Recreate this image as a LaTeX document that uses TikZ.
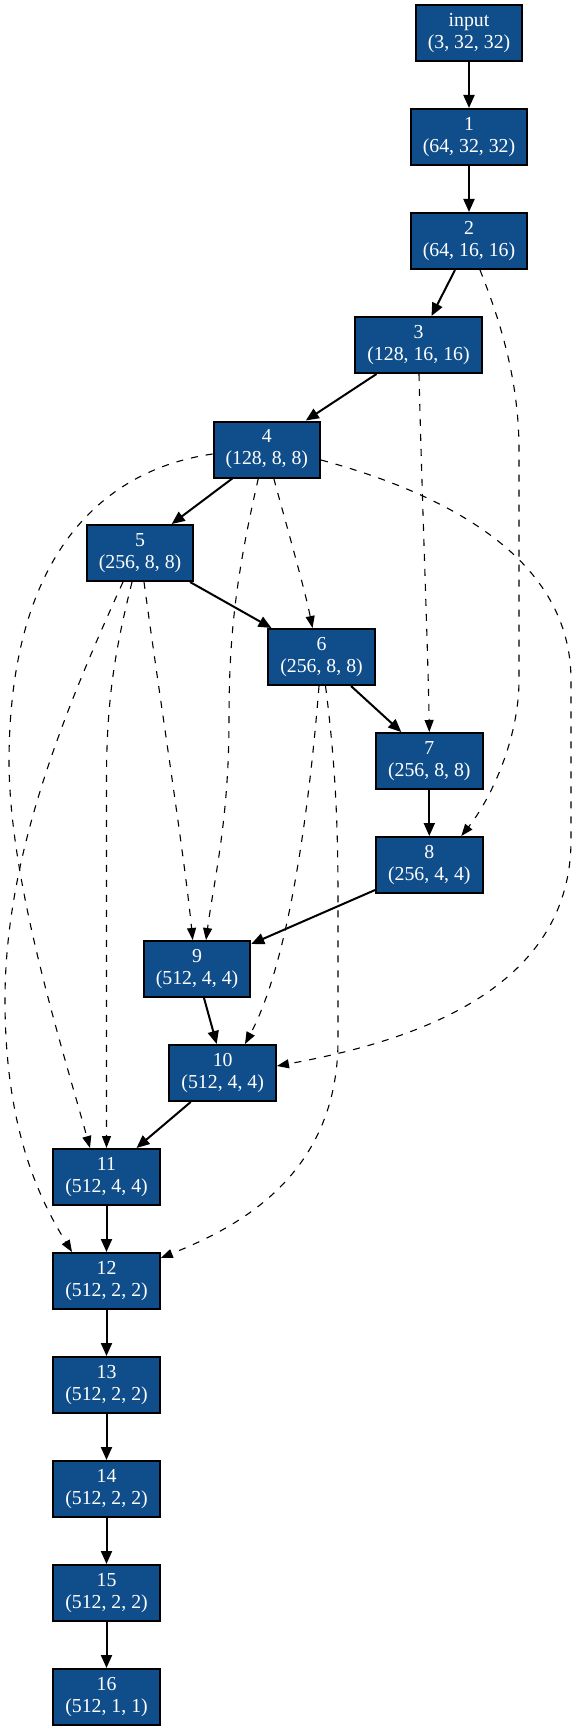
\documentclass[tikz,border=0pt]{standalone}
\usepackage{fontspec}
\setmainfont{Liberation Serif}
\usetikzlibrary{arrows.meta}
\definecolor{nodeblue}{HTML}{104E8B}
\tikzset{
  box/.style={draw=black, line width=2pt, fill=nodeblue, text=white,
    align=center, minimum height=56pt, minimum width=106pt, inner xsep=12pt, inner ysep=0pt,
    font=\fontsize{19.8pt}{22pt}\selectfont},
  solidedge/.style={line width=2pt, -{Triangle[length=13pt,width=11pt]}},
  dashedge/.style={line width=1.1pt, dash pattern=on 7pt off 8pt, -{Triangle[length=12pt,width=9pt]}}
}
\begin{document}
\begin{tikzpicture}[x=1pt,y=-1pt]
\useasboundingbox (0,0) rectangle (576,1731);
\node[box] (in) at (469,33) {input\\(3, 32, 32)};
\node[box] (n1) at (469,137) {1\\(64, 32, 32)};
\node[box] (n2) at (469,241) {2\\(64, 16, 16)};
\node[box] (n3) at (418.5,345) {3\\(128, 16, 16)};
\node[box] (n4) at (266.8,449.5) {4\\(128, 8, 8)};
\node[box] (n5) at (140,553) {5\\(256, 8, 8)};
\node[box] (n6) at (321.5,657) {6\\(256, 8, 8)};
\node[box] (n7) at (429.3,761) {7\\(256, 8, 8)};
\node[box] (n8) at (429.3,865) {8\\(256, 4, 4)};
\node[box] (n9) at (197,969) {9\\(512, 4, 4)};
\node[box] (n10) at (222.7,1073) {10\\(512, 4, 4)};
\node[box] (n11) at (106.5,1177) {11\\(512, 4, 4)};
\node[box] (n12) at (106.5,1281) {12\\(512, 2, 2)};
\node[box] (n13) at (106.5,1385) {13\\(512, 2, 2)};
\node[box] (n14) at (106.5,1489) {14\\(512, 2, 2)};
\node[box] (n15) at (106.5,1593) {15\\(512, 2, 2)};
\node[box] (n16) at (106.5,1697) {16\\(512, 1, 1)};
% solid chain
\draw[solidedge] (in.south) -- (n1.north);
\draw[solidedge] (n1.south) -- (n2.north);
\draw[solidedge] ([xshift=-14pt]n2.south) -- ([xshift=13pt]n3.north);
\draw[solidedge] ([xshift=-42pt]n3.south) -- ([xshift=39pt]n4.north);
\draw[solidedge] ([xshift=-34.5pt]n4.south) -- ([xshift=31.7pt]n5.north);
\draw[solidedge] ([xshift=50pt]n5.south) -- ([xshift=-50pt]n6.north);
\draw[solidedge] ([xshift=29.5pt]n6.south) -- ([xshift=-28pt]n7.north);
\draw[solidedge] (n7.south) -- (n8.north);
\draw[solidedge] ([yshift=4pt]n8.south west) -- ([yshift=-4pt]n9.north east);
\draw[solidedge] ([xshift=7pt]n9.south) -- ([xshift=-6pt]n10.north);
\draw[solidedge] ([xshift=-32pt]n10.south) -- ([xshift=30pt]n11.north);
\draw[solidedge] (n11.south) -- (n12.north);
\draw[solidedge] (n12.south) -- (n13.north);
\draw[solidedge] (n13.south) -- (n14.north);
\draw[solidedge] (n14.south) -- (n15.north);
\draw[solidedge] (n15.south) -- (n16.north);
% dashed skips
\draw[dashedge] ([xshift=11pt]n2.south) .. controls (500,320) and (519,380) .. (519,450) -- (519,680) .. controls (519,740) and (490,800) .. ([xshift=32pt]n8.north);
\draw[dashedge] ([xshift=0.5pt]n3.south) .. controls (422,500) and (428,650) .. (n7.north);
\draw[dashedge] ([yshift=-10.5pt]n4.east) .. controls (450,495) and (571,560) .. (571,680) -- (571,840) .. controls (571,1000) and (390,1045) .. ([yshift=7pt]n10.east);
\draw[dashedge] ([xshift=7pt]n4.south) .. controls (285,520) and (305,590) .. ([xshift=-9pt]n6.north);
\draw[dashedge] ([xshift=-8.5pt]n4.south) .. controls (235,580) and (229,640) .. (229,720) .. controls (229,820) and (214,880) .. ([xshift=9pt]n9.north);
\draw[dashedge] ([yshift=-4.5pt]n4.west) .. controls (115,468) and (10,540) .. (9,760) .. controls (9,880) and (60,1040) .. ([xshift=-16.5pt]n11.north);
\draw[dashedge] ([xshift=4pt]n5.south) .. controls (160,700) and (185,860) .. ([xshift=-4.3pt]n9.north);
\draw[dashedge] ([xshift=-8pt]n5.south) .. controls (115,650) and (106.5,700) .. (106.5,780) -- (n11.north);
\draw[dashedge] ([xshift=-17pt]n5.south) .. controls (60,720) and (5,860) .. (5,1000) .. controls (5,1130) and (40,1200) .. ([xshift=-34.5pt]n12.north);
\draw[dashedge] ([xshift=-2.5pt]n6.south) .. controls (310,800) and (290,960) .. ([xshift=22.3pt]n10.north);
\draw[dashedge] ([xshift=4pt]n6.south) .. controls (335,760) and (338,820) .. (338,900) -- (338,1040) .. controls (338,1180) and (230,1230) .. ([yshift=-6pt]n12.north east);
\end{tikzpicture}
\end{document}
